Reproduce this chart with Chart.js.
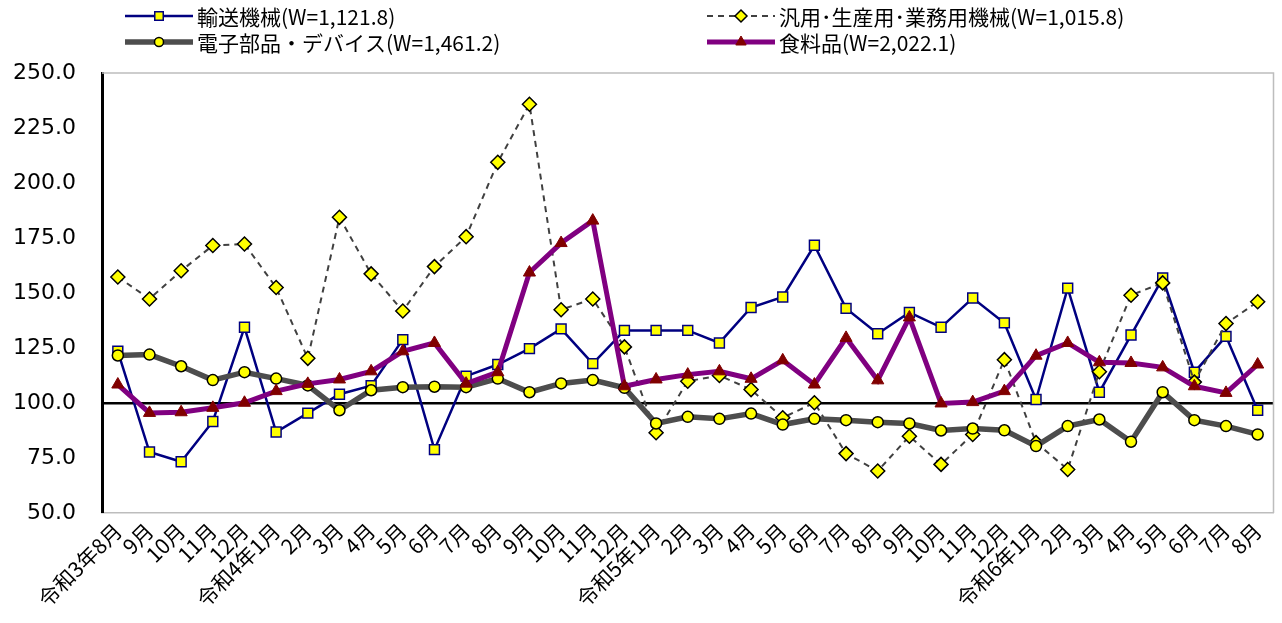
<!DOCTYPE html>
<html>
<head>
<meta charset="utf-8">
<script src="https://cdn.jsdelivr.net/npm/chart.js@4.4.1/dist/chart.umd.min.js"></script>
<style>
  body { margin: 0; background: #fff; }
  #wrap { width: 1282px; height: 623px; }
</style>
</head>
<body>
<div id="wrap"><canvas id="lineChart" width="1282" height="623"></canvas></div>
<script>
'use strict';

// months: R3/8 .. R6/8
var labels = [
  '令和3年8月', '9月', '10月', '11月', '12月',
  '令和4年1月', '2月', '3月', '4月', '5月', '6月', '7月', '8月', '9月', '10月', '11月', '12月',
  '令和5年1月', '2月', '3月', '4月', '5月', '6月', '7月', '8月', '9月', '10月', '11月', '12月',
  '令和6年1月', '2月', '3月', '4月', '5月', '6月', '7月', '8月'
];

var seriesNames = [
  '輸送機械(W=1,121.8)',
  '汎用･生産用･業務用機械(W=1,015.8)',
  '電子部品・デバイス(W=1,461.2)',
  '食料品(W=2,022.1)'
];

var transport = [
  123.5, 77.7, 73.3, 91.6, 134.4, 86.8, 95.4, 104.0, 107.9, 128.8, 78.8, 112.2,
  117.5, 124.7, 133.7, 117.9, 133.0, 133.0, 133.0, 127.3, 143.4, 148.2, 171.7, 143.0,
  131.5, 141.2, 134.4, 147.7, 136.4, 101.6, 152.2, 104.9, 130.9, 156.8, 114.0, 130.3, 96.7
];

var machinery = [
  157.3, 147.3, 160.1, 171.6, 172.3, 152.5, 120.3, 184.4, 158.7, 141.8, 162.0, 175.6,
  209.4, 235.8, 142.4, 147.3, 125.5, 86.5, 109.9, 112.5, 106.1, 93.3, 100.1, 77.0,
  69.1, 84.9, 72.1, 85.7, 119.7, 82.0, 69.8, 114.2, 149.0, 154.6, 109.5, 136.1, 146.0
];

var electronics = [
  121.6, 122.0, 116.7, 110.4, 114.0, 111.1, 108.0, 96.7, 105.8, 107.2, 107.4, 107.2,
  111.1, 104.9, 108.9, 110.4, 106.9, 90.7, 93.7, 92.8, 95.2, 90.2, 92.8, 92.2,
  91.3, 90.7, 87.5, 88.4, 87.6, 80.4, 89.5, 92.5, 82.4, 104.9, 92.2, 89.5, 85.7
];

var food = [
  108.4, 95.5, 95.8, 97.8, 100.1, 105.4, 108.7, 110.7, 114.4, 123.5, 127.3, 108.8,
  114.0, 159.3, 172.7, 182.9, 107.6, 110.7, 112.9, 114.4, 111.0, 119.4, 108.4, 129.6,
  110.3, 138.9, 99.8, 100.4, 105.4, 121.5, 127.3, 118.5, 118.2, 116.2, 107.6, 104.6, 117.5
];

var yTicks = { min: 50, max: 250, step: 25 };

var jpFont = '"Noto Sans CJK JP", "Noto Sans", sans-serif';

// legend drawn by hand: 2 columns x 2 rows, line sample + marker + text
var gridLegend = {
  id: 'gridLegend',
  afterDraw: function (chart) {
    var ctx = chart.ctx;
    var cols = [125, 707];
    var rows = [16, 42];
    chart.data.datasets.forEach(function (ds, i) {
      var x0 = cols[i % 2];
      var y = rows[Math.floor(i / 2)];
      var x1 = x0 + 68;
      ctx.save();
      ctx.strokeStyle = ds.borderColor;
      ctx.lineWidth = ds.borderWidth;
      ctx.setLineDash(ds.borderDash || []);
      ctx.beginPath();
      ctx.moveTo(x0, y);
      ctx.lineTo(x1, y);
      ctx.stroke();
      ctx.setLineDash([]);
      ctx.fillStyle = ds.pointBackgroundColor;
      ctx.strokeStyle = ds.pointBorderColor;
      ctx.lineWidth = ds.pointBorderWidth;
      Chart.helpers.drawPoint(ctx, {
        pointStyle: ds.pointStyle,
        radius: ds.pointRadius - 1,
        rotation: 0,
        borderWidth: ds.pointBorderWidth
      }, (x0 + x1) / 2, y);
      ctx.fillStyle = '#000';
      ctx.font = '21px ' + jpFont;
      ctx.textBaseline = 'middle';
      ctx.textAlign = 'left';
      ctx.fillText(ds.label, x1 + 4, y + 1);
      ctx.restore();
    });
  }
};

// gray frame on top / right of the plot area
var plotFrame = {
  id: 'plotFrame',
  beforeDatasetsDraw: function (chart) {
    var a = chart.chartArea;
    var ctx = chart.ctx;
    ctx.save();
    ctx.strokeStyle = '#bdbdbd';
    ctx.lineWidth = 1.5;
    ctx.beginPath();
    ctx.moveTo(a.left, a.top);
    ctx.lineTo(a.right, a.top);
    ctx.lineTo(a.right, a.bottom);
    ctx.stroke();
    ctx.restore();
  }
};

var ctx = document.getElementById('lineChart').getContext('2d');

new Chart(ctx, {
  type: 'line',
  data: {
    labels: labels,
    datasets: [{
      label: seriesNames[0],
      data: transport,
      order: 3,
      borderColor: '#000080',
      borderWidth: 2.5,
      pointStyle: 'rect',
      pointRadius: 7,
      pointBackgroundColor: '#ffff00',
      pointBorderColor: '#000080',
      pointBorderWidth: 1.5
    }, {
      label: seriesNames[1],
      data: machinery,
      order: 2,
      borderColor: '#404040',
      borderWidth: 2,
      borderDash: [6, 5],
      pointStyle: 'rectRot',
      pointRadius: 7,
      pointBackgroundColor: '#ffff00',
      pointBorderColor: '#000000',
      pointBorderWidth: 1.5
    }, {
      label: seriesNames[2],
      data: electronics,
      order: 1,
      borderColor: '#4d4d4d',
      borderWidth: 5.5,
      pointStyle: 'circle',
      pointRadius: 5.5,
      pointBackgroundColor: '#ffff00',
      pointBorderColor: '#000000',
      pointBorderWidth: 1.5
    }, {
      label: seriesNames[3],
      data: food,
      order: 0,
      borderColor: '#800080',
      borderWidth: 5,
      pointStyle: 'triangle',
      pointRadius: 7,
      pointBackgroundColor: '#800000',
      pointBorderColor: '#800000',
      pointBorderWidth: 1
    }]
  },
  options: {
    responsive: false,
    animation: false,
    layout: { padding: { top: 73, right: 4, left: 0, bottom: 0 } },
    elements: { line: { tension: 0 } },
    plugins: {
      legend: { display: false },
      tooltip: { enabled: false }
    },
    scales: {
      x: {
        offset: true,
        grid: { display: false, drawTicks: false },
        border: { display: true, color: '#bdbdbd', width: 1.5 },
        ticks: {
          color: '#000',
          autoSkip: false,
          maxRotation: 45,
          minRotation: 45,
          padding: 5,
          font: { family: jpFont, size: 21 }
        },
        afterFit: function (scale) { scale.height = 110; }
      },
      y: {
        min: yTicks.min,
        max: yTicks.max,
        grid: {
          drawTicks: false,
          color: function (c) { return c.tick && c.tick.value === 100 ? '#000' : 'rgba(0,0,0,0)'; },
          lineWidth: function (c) { return c.tick && c.tick.value === 100 ? 2.5 : 0; }
        },
        border: { display: true, color: '#000', width: 3 },
        ticks: {
          color: '#000',
          stepSize: yTicks.step,
          padding: 26,
          font: { family: '"DejaVu Sans", sans-serif', size: 22 },
          callback: function (v) { return v.toFixed(1); }
        },
        afterFit: function (scale) { scale.width = 102; }
      }
    }
  },
  plugins: [plotFrame, gridLegend]
});
</script>
</body>
</html>
